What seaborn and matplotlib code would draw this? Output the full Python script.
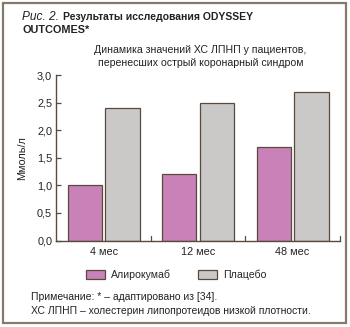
import matplotlib
matplotlib.use("Agg")
import matplotlib.pyplot as plt
import seaborn as sns
import pandas as pd
from matplotlib.patches import Rectangle

categories = ["4 мес", "12 мес", "48 мес"]
series_names = ["Алирокумаб", "Плацебо"]
alirocumab = [1.0, 1.2, 1.7]
placebo = [2.4, 2.5, 2.7]
yticks = [0.0, 0.5, 1.0, 1.5, 2.0, 2.5, 3.0]
ytick_labels = ["0,0", "0,5", "1,0", "1,5", "2,0", "2,5", "3,0"]

df = pd.DataFrame({
    "cat": categories * 2,
    "series": [series_names[0]] * 3 + [series_names[1]] * 3,
    "value": alirocumab + placebo,
})

sns.set_theme(style="white")
plt.rcParams['font.family'] = ['Liberation Sans', 'DejaVu Sans']

fig = plt.figure(figsize=(3.5, 3.27), dpi=100)
fig.patch.set_facecolor("white")
ax = fig.add_axes([0.161, 0.2645, 0.810, 0.506])

edge = "#5a4a3e"
txt = "#222222"
palette = {series_names[0]: "#c882b8", series_names[1]: "#cbc8c8"}
sns.barplot(data=df, x="cat", y="value", hue="series", palette=palette,
            width=0.8, gap=0.1, edgecolor=edge, linewidth=0.9, saturation=1,
            ax=ax, legend=True)

ax.set_xlim(-0.5, 2.5)
ax.set_ylim(0, 3.0)
ax.set_yticks(yticks)
ax.set_yticklabels(ytick_labels, fontsize=7.8, color=txt)
ax.set_xticks([0, 1, 2])
ax.set_xticklabels(categories, fontsize=7.8, color=txt)
ax.tick_params(axis="x", length=0, pad=5)
ax.tick_params(axis="y", length=3.6, width=0.9, color=edge, direction="in", left=True, pad=3)
for xb in [0.5, 1.5, 2.5]:
    ax.plot([xb, xb], [0, 0.08], color=edge, lw=0.9, clip_on=False)
ax.set_xlabel("")
ax.set_ylabel("Ммоль/л", fontsize=7.8, color=txt, labelpad=7)
for s in ["top", "right"]:
    ax.spines[s].set_visible(False)
for s in ["left", "bottom"]:
    ax.spines[s].set_color(edge)
    ax.spines[s].set_linewidth(1.0)

handles, labels = ax.get_legend_handles_labels()
ax.legend(handles, labels, loc="upper left", bbox_to_anchor=(0.105, -0.178),
          ncol=2, frameon=False, fontsize=7.6, handlelength=1.8, handleheight=0.95,
          columnspacing=2.6, handletextpad=0.55, borderaxespad=0, borderpad=0)

fig.text(0.063, 0.948, "Рис. 2.", fontsize=8.6, style="italic", color=txt, va="center")
fig.text(0.18, 0.948, "Результаты исследования ODYSSEY", fontsize=7.5, weight="bold", color=txt, va="center")
fig.text(0.063, 0.908, "OUTCOMES*", fontsize=7.8, weight="bold", color=txt, va="center")
fig.text(0.573, 0.848, "Динамика значений ХС ЛПНП у пациентов,", fontsize=7.6, ha="center", va="center", color=txt)
fig.text(0.573, 0.806, "перенесших острый коронарный синдром", fontsize=7.6, ha="center", va="center", color=txt)
fig.text(0.088, 0.092, "Примечание: * – адаптировано из [34].", fontsize=7.5, va="center", color=txt)
fig.text(0.088, 0.049, "ХС ЛПНП – холестерин липопротеидов низкой плотности.", fontsize=7.5, va="center", color=txt)

fig.add_artist(Rectangle((2.5/350, 1 - 323/327), (346 - 2.5)/350, (323 - 2.5)/327,
                         transform=fig.transFigure, fill=False, edgecolor="#857a6e", linewidth=1.6))

fig.savefig("out.png", dpi=100)
